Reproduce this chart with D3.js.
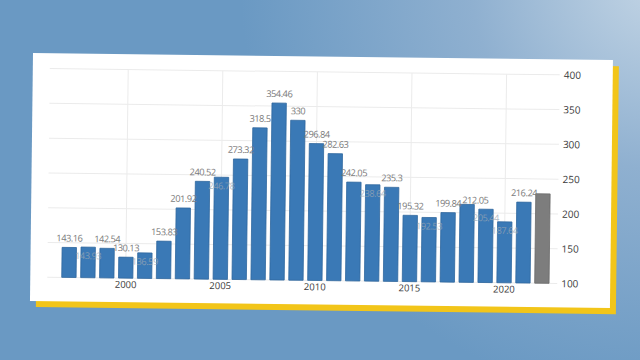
<!DOCTYPE html>
<html lang="en">
<head>
    <meta charset="UTF-8">
    <title>Bar chart on card</title>
    <script src="https://d3js.org/d3.v7.min.js"></script>
    <style>
        body { margin: 0; overflow: hidden; }
        svg { display: block; }
        .val { font-family: "Open Sans", "Noto Sans", sans-serif; font-size: 9.3px; letter-spacing: -0.5px; }
    </style>
</head>
<body>
<svg width="640" height="360"></svg>
<script>
    // data
    const years = [1997, 1998, 1999, 2000, 2001, 2002, 2003, 2004, 2005, 2006, 2007, 2008, 2009,
                   2010, 2011, 2012, 2013, 2014, 2015, 2016, 2017, 2018, 2019, 2020, 2021, 2022];
    const values = [143.16, 143.93, 142.54, 130.13, 136.59, 153.83, 201.92, 240.52, 246.78, 273.32,
                    318.5, 354.46, 330, 296.84, 282.63, 242.05, 238.64, 235.3, 195.32, 192.53,
                    199.84, 212.05, 205.44, 187.64, 216.24, 228.6];
    const faintYears = [1998, 2001, 2005, 2013, 2016, 2019, 2020]; // labels half hidden behind bars
    const forecastYears = [2022];                                   // grey bar, no label
    const yTicks = [100, 150, 200, 250, 300, 350, 400];
    const xTicks = [2000, 2005, 2010, 2015, 2020];

    const svg = d3.select("svg");
    const W = 640, H = 360;

    // background gradient
    const defs = svg.append("defs");
    const bg = defs.append("radialGradient").attr("id", "bg")
        .attr("gradientUnits", "userSpaceOnUse")
        .attr("cx", 660).attr("cy", -20).attr("r", 420);
    bg.append("stop").attr("offset", 0).attr("stop-color", "#c3d5e5");
    bg.append("stop").attr("offset", 0.45).attr("stop-color", "#8fb0d0");
    bg.append("stop").attr("offset", 1).attr("stop-color", "#6a99c3");
    svg.append("rect").attr("width", W).attr("height", H).attr("fill", "url(#bg)");

    // card, slightly tilted
    const cardW = 580, cardH = 248;
    const card = svg.append("g").attr("transform", "translate(33,53) rotate(0.7)");
    card.append("rect").attr("x", 6).attr("y", 6).attr("width", cardW).attr("height", cardH)
        .attr("fill", "#f2c519");
    card.append("rect").attr("width", cardW).attr("height", cardH).attr("fill", "#ffffff");

    // scales
    const x = d3.scaleBand().domain(years).range([29.2, 521.1])
        .paddingInner(0.24).paddingOuter(0.12);
    const y = d3.scaleLinear().domain([100, 400]).range([224, 15.4]);
    const gridLeft = 17, gridRight = 527;

    // grid
    card.selectAll(".hgrid").data(yTicks).enter().append("line")
        .attr("class", "hgrid")
        .attr("x1", gridLeft).attr("x2", gridRight)
        .attr("y1", d => y(d)).attr("y2", d => y(d))
        .attr("stroke", "#ebebeb").attr("stroke-width", 1);
    card.selectAll(".vgrid").data(xTicks).enter().append("line")
        .attr("class", "vgrid")
        .attr("x1", d => x(d) + x.bandwidth() / 2).attr("x2", d => x(d) + x.bandwidth() / 2)
        .attr("y1", y(400)).attr("y2", y(100))
        .attr("stroke", "#ebebeb").attr("stroke-width", 1);

    // bars
    const rows = years.map((yr, i) => ({ year: yr, value: values[i] }));
    card.selectAll(".bar").data(rows).enter().append("rect")
        .attr("class", "bar")
        .attr("x", d => x(d.year))
        .attr("width", x.bandwidth())
        .attr("y", d => y(d.value))
        .attr("height", d => y(100) - y(d.value))
        .attr("fill", d => forecastYears.includes(d.year) ? "#7d7d7d" : "#3a79b6")
        .attr("stroke", d => forecastYears.includes(d.year) ? "#6a6a6a" : "#2f679e")
        .attr("stroke-width", 0.8);

    // value labels
    const labelled = rows.filter(d => !forecastYears.includes(d.year));
    const vals = card.selectAll(".val").data(labelled).enter().append("text")
        .attr("class", "val")
        .attr("x", d => x(d.year) + x.bandwidth() / 2)
        .attr("y", d => faintYears.includes(d.year) ? y(d.value) + 12 : y(d.value) - 6)
        .attr("text-anchor", "middle")
        .attr("fill", d => faintYears.includes(d.year) ? "#9aa7b4" : "#7c7c7c")
        .attr("opacity", d => faintYears.includes(d.year) ? 0.75 : 1)
        .text(d => d.value);

    // a label sitting higher than its left neighbour gets pushed right past it
    let prev = null;
    vals.filter(d => !faintYears.includes(d.year)).each(function(d) {
        const el = d3.select(this);
        const w = this.getComputedTextLength();
        const cx = +el.attr("x"), cy = +el.attr("y");
        if (prev && cy < prev.y && prev.y - cy < 10 && cx - w / 2 < prev.right + 1) {
            const nx = prev.right + 1 + w / 2;
            el.attr("x", nx).attr("y", cy + 5);
            prev = { right: nx + w / 2, y: cy + 5 };
        } else {
            prev = { right: cx + w / 2, y: cy };
        }
    });

    // y axis on the right
    const yAxis = d3.axisRight(y).tickValues(yTicks).tickSize(0).tickPadding(0);
    const ya = card.append("g").attr("transform", "translate(531,0)").call(yAxis);
    ya.select(".domain").remove();
    ya.selectAll("text").attr("font-size", 10)
        .attr("font-family", "Open Sans, sans-serif").attr("fill", "#3a3a3a");

    // x axis
    const xAxis = d3.axisBottom(x).tickValues(xTicks).tickSize(0).tickPadding(3);
    const xa = card.append("g").attr("transform", `translate(0,${y(100)})`).call(xAxis);
    xa.select(".domain").remove();
    xa.selectAll("text").attr("font-size", 9.5)
        .attr("font-family", "Open Sans, sans-serif").attr("fill", "#3a3a3a");
</script>
</body>
</html>
